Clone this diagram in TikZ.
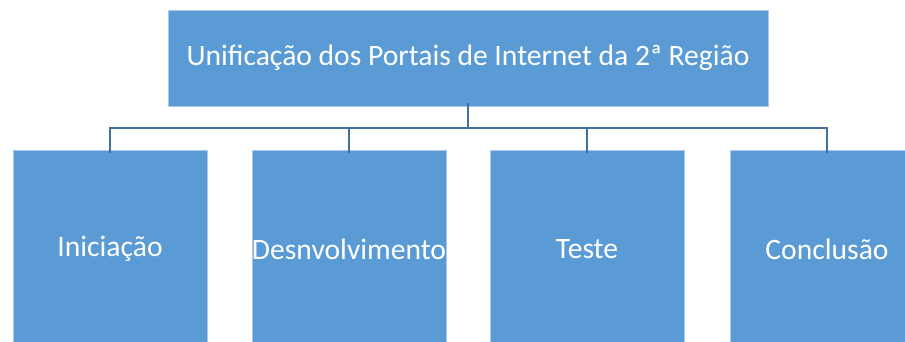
\documentclass[tikz,border=0pt]{standalone}
\usepackage{fontspec}
\setmainfont{Carlito}
\usetikzlibrary{positioning}
\definecolor{boxblue}{RGB}{91,155,213}
\definecolor{boxedge}{RGB}{170,200,235}
\definecolor{linkblue}{RGB}{65,113,156}
\tikzset{
  box/.style={draw=boxedge,line width=0.6pt,fill=boxblue,text=white,font=\fontsize{22.2}{26}\selectfont,inner sep=0pt,align=center},
  link/.style={draw=linkblue,line width=1.5pt}
}
\begin{document}
\begin{tikzpicture}[x=0.75pt,y=0.75pt,yscale=-1]
        \path[use as bounding box] (0,0) rectangle (905,342);
        \clip (0,0) rectangle (905,342);
        % top box
        \node[box,minimum width=450pt,minimum height=72pt] (top) at (468,58) {Unificação dos Portais de Internet da 2ª Região};
        % phases
        \node[box,minimum width=145.5pt,minimum height=148.5pt] (ini) at (110,249) {Iniciação};
        \node[box,minimum width=145.5pt,minimum height=148.5pt] (dev) at (349,249) {Desnvolvimento};
        \node[box,minimum width=145.5pt,minimum height=148.5pt] (tes) at (587,249) {Teste};
        \node[box,minimum width=145.5pt,minimum height=148.5pt] (con) at (827,249) {Conclusão};
        % connectors
        \coordinate (bus) at (468,128);
        \draw[link] ([yshift=-2.25pt]top.south) -- (bus);
        \draw[link] (bus) -| ([yshift=2.25pt]ini.north);
        \draw[link] (bus) -| ([yshift=2.25pt]dev.north);
        \draw[link] (bus) -| ([yshift=2.25pt]tes.north);
        \draw[link] (bus) -| ([yshift=2.25pt]con.north);
\end{tikzpicture}
\end{document}
